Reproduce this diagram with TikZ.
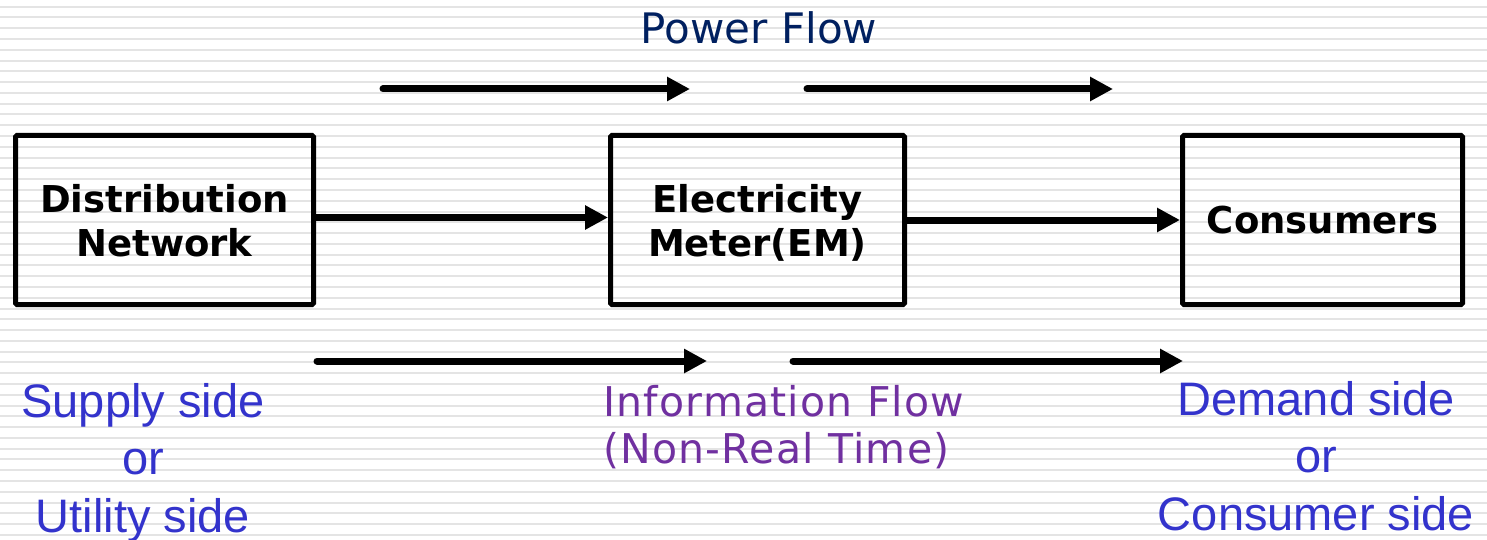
\documentclass[tikz,border=0pt]{standalone}
\usepackage{fontspec}
\setmainfont{DejaVu Sans}
\newfontfamily\vfont{DejaVu Sans}
\newfontfamily\vfontwide[LetterSpace=3]{DejaVu Sans}
\newfontfamily\afont{Liberation Sans}
\usetikzlibrary{arrows.meta}
\definecolor{stripe}{HTML}{E4E4E4}
\definecolor{navy}{HTML}{002060}
\definecolor{infopurple}{HTML}{7030A0}
\definecolor{sideblue}{HTML}{3333CC}
\begin{document}
\begin{tikzpicture}[x=1pt,y=-1pt,
  block/.style={draw=black, line width=5pt, rounded corners=1.5pt, minimum height=169pt, inner sep=0pt, text depth=0pt, align=center, font=\vfont\bfseries\fontsize{37}{44}\selectfont},
  flow/.style={line width=7pt, line cap=round, -{Triangle[length=23pt,width=23pt]}},
  sidelabel/.style={text=sideblue, align=center, inner sep=0pt, font=\afont\fontsize{47}{57.5}\selectfont},
  flowlabel/.style={inner sep=0pt, font=\vfont\fontsize{41}{47}\selectfont},
]
\useasboundingbox (0,0) rectangle (1487,540);
\fill[white] (0,0) rectangle (1487,540);
\foreach \i in {0,...,49} \draw[stripe, line width=2pt] (0,6.7+\i*10.78) -- (1487,6.7+\i*10.78);

\node[block, minimum width=298pt] (dn) at (164.5,220) {Distribution\\Network};
\node[block, minimum width=294pt] (em) at (757.5,220) {Electricity\\Meter(EM)};
\node[block, minimum width=280pt] (cons) at (1322.5,220) {Consumers};

\coordinate (pf1s) at (383,89);
\coordinate (pf1e) at (690,89);
\coordinate (pf2s) at (807,89);
\coordinate (pf2e) at (1113,89);
\coordinate (if1s) at (317,361);
\coordinate (if1e) at (707,361);
\coordinate (if2s) at (793,361);
\coordinate (if2e) at (1183,361);

\draw[flow] (pf1s) -- (pf1e);
\draw[flow] (pf2s) -- (pf2e);
\draw[flow] ([yshift=2.5pt]dn.east) -- ([yshift=2.5pt]em.west);
\draw[flow] (em.east) -- (cons.west);
\draw[flow] (if1s) -- (if1e);
\draw[flow] (if2s) -- (if2e);

\node[flowlabel, text=navy, font=\vfont\fontsize{42}{50}\selectfont, anchor=base] (pf) at (759,44) {Power Flow};
\node[flowlabel, text=infopurple, align=left, font=\vfontwide\fontsize{41}{47}\selectfont, anchor=base west] (if) at (603,463) {Information Flow\\(Non-Real Time)};
\node[sidelabel, anchor=base] (sup) at (143,532) {Supply side\\or\\Utility side};
\node[sidelabel, anchor=base] (dem) at (1316,530) {Demand side\\or\\Consumer side};
\end{tikzpicture}
\end{document}
